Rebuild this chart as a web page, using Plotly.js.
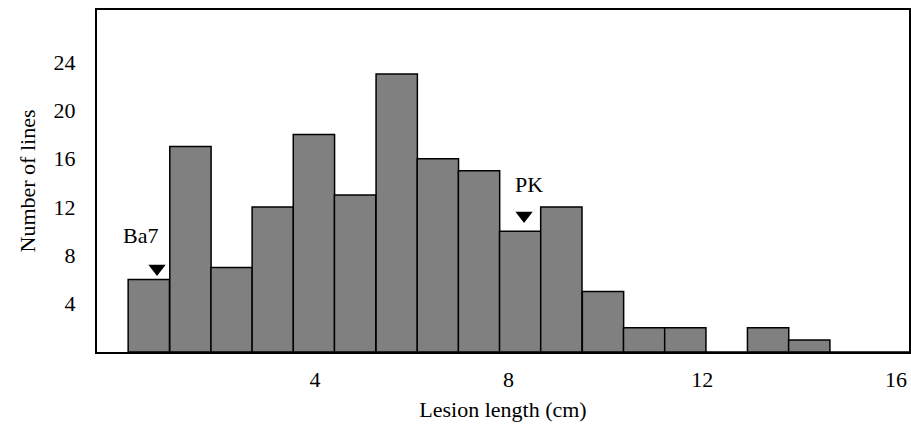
<!DOCTYPE html>
<html>
<head>
<meta charset="utf-8">
<script src="https://cdn.plot.ly/plotly-3.0.1.min.js"></script>
<style>html,body{margin:0;padding:0;background:#fff;}#chart{width:911px;height:432px;}</style>
</head>
<body>
<div id="chart"></div>
<script>
// Bin centres (cm) and counts
var binCenters = [0.57, 1.43, 2.28, 3.13, 3.98, 4.83, 5.69, 6.54, 7.39, 8.24, 9.09, 9.95, 10.80, 11.65, 12.50, 13.36, 14.21, 15.06, 15.91];
var counts     = [6, 17, 7, 12, 18, 13, 23, 16, 15, 10, 12, 5, 2, 2, 0, 2, 1, 0, 0];
var binWidth = 0.853;
var xTicks = [4, 8, 12, 16];
var yTicks = [4, 8, 12, 16, 20, 24];
// markers
var markerNames = ["Ba7", "PK"];
var markerX = [0.74, 8.32];
var markerY = [6.9, 11.3];
var labelX = [0.39, 8.42];
var labelY = [9.6, 13.9];

var serif = "Liberation Serif";

var bars = {
  type: "bar",
  x: binCenters,
  y: counts,
  width: binWidth,
  marker: {color: "#808080", line: {color: "#000", width: 1.5}},
  hoverinfo: "x+y"
};
var tri = {
  type: "scatter",
  mode: "markers",
  x: markerX,
  y: markerY,
  marker: {symbol: "triangle-down", size: 15, color: "#000"},
  hoverinfo: "skip"
};
var annotations = markerNames.map(function(n, i){
  return {x: labelX[i], y: labelY[i], text: n, showarrow: false,
          font: {family: serif, size: 22, color: "#000"}};
});

var layout = {
  width: 911, height: 432,
  margin: {l: 97, r: 2, t: 10, b: 80},
  paper_bgcolor: "#fff", plot_bgcolor: "#fff",
  showlegend: false,
  bargap: 0,
  font: {family: serif, size: 22, color: "#000"},
  xaxis: {
    range: [-0.5, 16.27],
    tickvals: xTicks, ticktext: xTicks.map(String),
    showgrid: false, zeroline: false,
    showline: true, linecolor: "#000", linewidth: 2, mirror: true,
    ticks: "", ticklabelstandoff: 7,
    tickfont: {family: serif, size: 22},
    title: {text: "Lesion length (cm)", font: {family: serif, size: 22}, standoff: 10}
  },
  yaxis: {
    range: [0, 28.3],
    tickvals: yTicks, ticktext: yTicks.map(String),
    showgrid: false, zeroline: false,
    showline: true, linecolor: "#000", linewidth: 2, mirror: true,
    ticks: "", ticklabelstandoff: 15,
    tickfont: {family: serif, size: 22},
    title: {text: "Number of lines", font: {family: serif, size: 22}, standoff: 12}
  },
  annotations: annotations
};
Plotly.newPlot("chart", [bars, tri], layout, {displayModeBar: false, staticPlot: true});
</script>
</body>
</html>
